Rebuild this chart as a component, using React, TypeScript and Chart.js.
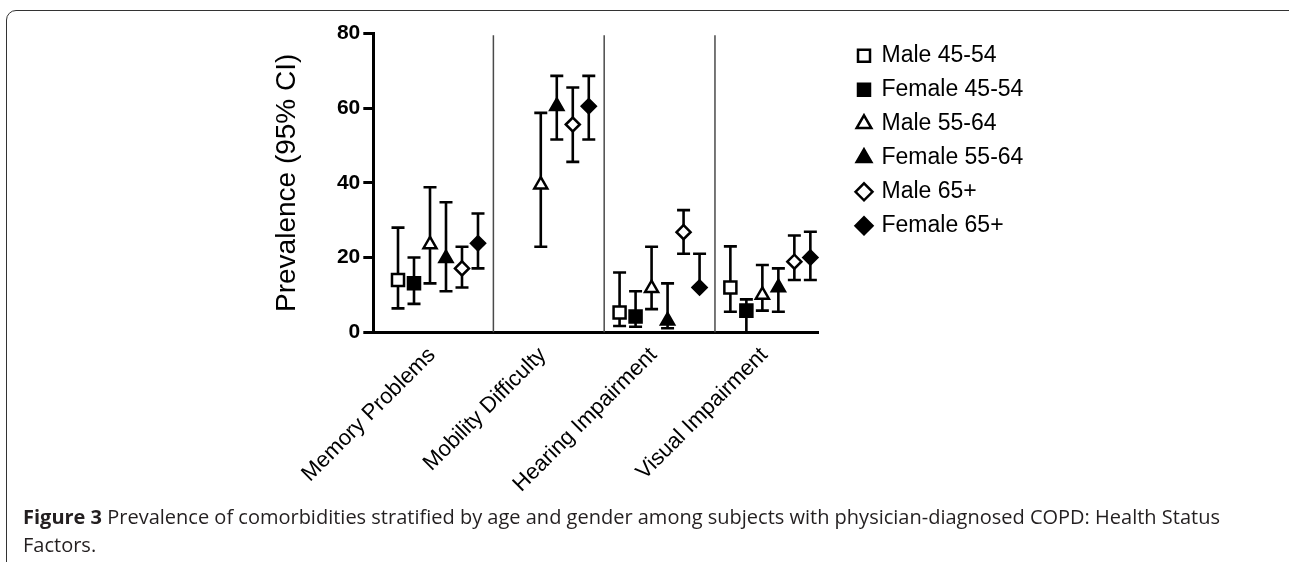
import React, { useEffect, useRef } from 'react';
import { Chart, registerables } from 'chart.js';

Chart.register(...registerables);

const categories = ['Memory Problems', 'Mobility Difficulty', 'Hearing Impairment', 'Visual Impairment'];
const seriesLabels = ['Male 45-54', 'Female 45-54', 'Male 55-64', 'Female 55-64', 'Male 65+', 'Female 65+'];
const yTicks = [0, 20, 40, 60, 80];

const male4554 = [14, null, 5.3, 12];
const male4554Low = [6.4, null, 1.7, 5.5];
const male4554High = [28, null, 16, 23];

const female4554 = [13.1, null, 4.2, 5.8];
const female4554Low = [7.6, null, 1.5, 0];
const female4554High = [20, null, 11, 8.8];

const male5564 = [23.5, 39.5, 11.8, 10];
const male5564Low = [13.1, 22.9, 6.2, 5.8];
const male5564High = [38.8, 58.7, 22.9, 18];

const female5564 = [19.8, 60.5, 3.1, 12];
const female5564Low = [11, 51.6, 1.1, 5.5];
const female5564High = [34.8, 68.6, 13.1, 17.1];

const male65 = [17.1, 55.6, 26.8, 18.9];
const male65Low = [12, 45.6, 21, 14];
const male65High = [22.9, 65.5, 32.7, 25.9];

const female65 = [23.8, 60.5, 12, 20];
const female65Low = [17.1, 51.6, 12, 14];
const female65High = [31.8, 68.6, 21, 26.9];

const seriesValues = [male4554, female4554, male5564, female5564, male65, female65];
const seriesLow = [male4554Low, female4554Low, male5564Low, female5564Low, male65Low, female65Low];
const seriesHigh = [male4554High, female4554High, male5564High, female5564High, male65High, female65High];

const markerStyles = [
  { pointStyle: 'rect', fill: '#ffffff', radius: 8.5 },
  { pointStyle: 'rect', fill: '#000000', radius: 8.5 },
  { pointStyle: 'triangle', fill: '#ffffff', radius: 7.5 },
  { pointStyle: 'triangle', fill: '#000000', radius: 7.5 },
  { pointStyle: 'rectRot', fill: '#ffffff', radius: 7 },
  { pointStyle: 'rectRot', fill: '#000000', radius: 7 },
];

const GROUP_STEP = 0.1444;
const CAP_HALF = 6.5;
const FONT = '"Liberation Sans", Arial, Helvetica, sans-serif';
const CANVAS_W = 1289;
const CANVAS_H = 562;
const AREA_LEFT = 373.3;
const AREA_RIGHT = 818;
const AREA_TOP = 33.3;
const AREA_BOTTOM = 332.3;
const TITLE_SIZE = 28;
const TITLE_CENTER_X = 287;
const LEGEND_SIZE = 23;
const LEGEND_PAD = 11;
const LEGEND_BOX = 12;
const LEGEND_GAP = 29;

const xOf = (catIndex: number, seriesIndex: number) => catIndex + (seriesIndex - 2.5) * GROUP_STEP;

const errorBarPlugin = {
  id: 'errorBars',
  beforeDatasetsDraw(chart: any) {
    const { ctx, chartArea } = chart;
    const x = chart.scales.x;
    const y = chart.scales.y;
    ctx.save();
    ctx.strokeStyle = '#4a4a4a';
    ctx.lineWidth = 1.5;
    for (let i = 0; i < categories.length - 1; i++) {
      const px = x.getPixelForValue(i + 0.5);
      ctx.beginPath();
      ctx.moveTo(px, chartArea.top + 2);
      ctx.lineTo(px, chartArea.bottom);
      ctx.stroke();
    }
    ctx.strokeStyle = '#000';
    ctx.lineWidth = 2.6;
    seriesValues.forEach((vals, si) => {
      vals.forEach((v, i) => {
        if (v == null) return;
        const px = x.getPixelForValue(xOf(i, si));
        const lo = y.getPixelForValue(seriesLow[si][i] as number);
        const hi = y.getPixelForValue(seriesHigh[si][i] as number);
        ctx.beginPath();
        ctx.moveTo(px, lo);
        ctx.lineTo(px, hi);
        ctx.moveTo(px - CAP_HALF, lo);
        ctx.lineTo(px + CAP_HALF, lo);
        ctx.moveTo(px - CAP_HALF, hi);
        ctx.lineTo(px + CAP_HALF, hi);
        ctx.stroke();
      });
    });
    ctx.restore();
  },
};

export default function App() {
  const ref = useRef<HTMLCanvasElement>(null);

  useEffect(() => {
    if (!ref.current) return;

    const mctx = document.createElement('canvas').getContext('2d') as CanvasRenderingContext2D;
    mctx.font = `normal ${LEGEND_SIZE}px ${FONT}`;
    const maxText = Math.max(...seriesLabels.map((t) => mctx.measureText(t).width));
    const legendW = LEGEND_PAD + LEGEND_BOX + LEGEND_SIZE / 2 + maxText + 10;
    const padRight = CANVAS_W - AREA_RIGHT - LEGEND_GAP - legendW;

    const titleOffset = (TITLE_SIZE * 1.2) / 2 + 4;
    const padLeft = TITLE_CENTER_X - titleOffset;

    const datasets = seriesValues.map((vals, si) => ({
      label: seriesLabels[si],
      data: vals
        .map((v, i) => (v == null ? null : { x: xOf(i, si), y: v }))
        .filter((p) => p !== null),
      pointStyle: markerStyles[si].pointStyle,
      pointRadius: markerStyles[si].radius,
      pointBackgroundColor: markerStyles[si].fill,
      backgroundColor: markerStyles[si].fill,
      pointBorderColor: '#000',
      borderColor: '#000',
      pointBorderWidth: 2.5,
      borderWidth: 2.5,
      showLine: false,
      clip: false,
    }));

    const chart = new Chart(ref.current, {
      type: 'scatter',
      data: { datasets: datasets as any },
      plugins: [errorBarPlugin],
      options: {
        animation: false,
        responsive: false,
        devicePixelRatio: 1,
        layout: { padding: { left: padLeft, top: AREA_TOP, right: padRight, bottom: 0 } },
        plugins: {
          tooltip: { enabled: false },
          legend: {
            position: 'right',
            align: 'start',
            maxWidth: 1000,
            labels: {
              usePointStyle: true,
              boxWidth: LEGEND_BOX,
              boxHeight: LEGEND_BOX,
              padding: LEGEND_PAD,
              color: '#000',
              font: { family: FONT, size: LEGEND_SIZE },
            },
          },
        },
        scales: {
          x: {
            type: 'linear',
            min: -0.584,
            max: 3.43,
            afterBuildTicks: (axis: any) => {
              axis.ticks = categories.map((_, i) => ({ value: i }));
            },
            afterFit: (axis: any) => {
              axis.height = CANVAS_H - AREA_BOTTOM;
            },
            grid: { display: true, drawOnChartArea: false, drawTicks: false },
            border: { display: true, color: '#000', width: 3 },
            ticks: {
              autoSkip: false,
              minRotation: 45,
              maxRotation: 45,
              padding: 10,
              labelOffset: -6,
              color: '#000',
              font: { family: FONT, size: 22 },
              callback: (value: any) => categories[Math.round(Number(value))] ?? '',
            },
          },
          y: {
            type: 'linear',
            position: 'left',
            min: 0,
            max: 80,
            afterBuildTicks: (axis: any) => {
              axis.ticks = yTicks.map((v) => ({ value: v }));
            },
            afterFit: (axis: any) => {
              axis.width = AREA_LEFT - padLeft;
            },
            grid: {
              display: true,
              drawOnChartArea: false,
              drawTicks: true,
              tickLength: 10,
              tickWidth: 3,
              tickColor: '#000',
            },
            border: { display: true, color: '#000', width: 3 },
            ticks: {
              padding: 3,
              color: '#000',
              font: { family: FONT, size: 21, weight: 'bold' },
            },
            title: {
              display: true,
              text: 'Prevalence (95% CI)',
              color: '#000',
              font: { family: FONT, size: TITLE_SIZE },
              padding: { top: 4, bottom: 4 },
            },
          },
          y2: {
            type: 'linear',
            position: 'right',
            display: true,
            afterFit: (axis: any) => {
              axis.width = LEGEND_GAP;
            },
            grid: { display: false },
            border: { display: false },
            ticks: { display: false },
          },
        },
      } as any,
    });
    return () => chart.destroy();
  }, []);

  return (
    <div
      style={{
        position: 'fixed',
        left: 0,
        top: 0,
        width: CANVAS_W,
        height: CANVAS_H,
        overflow: 'hidden',
        background: '#fff',
      }}
    >
      <div
        style={{
          position: 'absolute',
          left: 6,
          top: 10,
          width: 1300,
          height: 600,
          border: '1.5px solid #333',
          borderRadius: 10,
          boxSizing: 'border-box',
        }}
      />
      <canvas
        ref={ref}
        width={CANVAS_W}
        height={CANVAS_H}
        style={{ position: 'absolute', left: 0, top: 0 }}
      />
      <div
        style={{
          position: 'absolute',
          left: 23,
          top: 503.2,
          width: 1230,
          fontFamily: '"Open Sans", sans-serif',
          fontSize: 20,
          lineHeight: '28px',
          color: '#231f20',
        }}
      >
        <b>Figure 3</b> Prevalence of comorbidities stratified by age and gender among subjects with
        physician-diagnosed COPD: Health Status Factors.
      </div>
    </div>
  );
}
